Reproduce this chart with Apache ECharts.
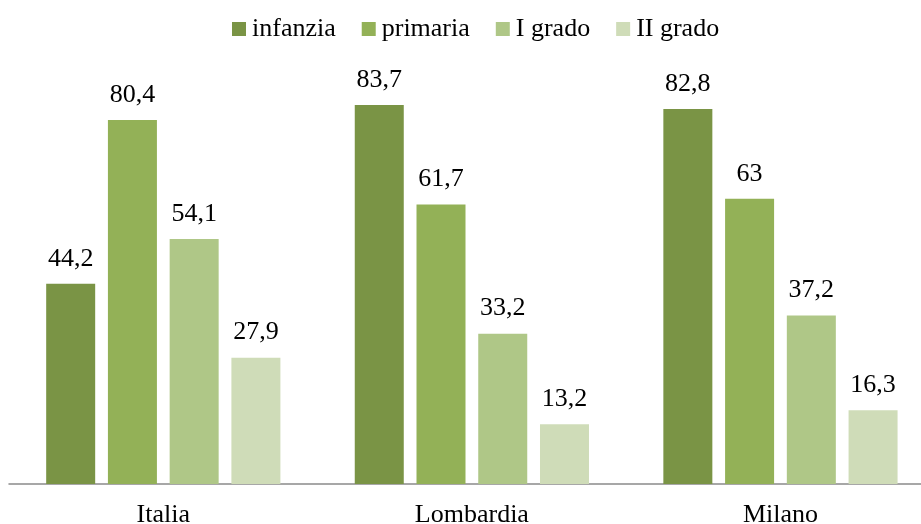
<!DOCTYPE html>
<html><head><meta charset="utf-8">
<script src="https://cdn.jsdelivr.net/npm/echarts@6/dist/echarts.min.js"></script>
<style>html,body{margin:0;padding:0;background:#fff}#c{width:921px;height:524px}</style>
</head><body><div id="c"></div>
<script>
const categories = ['Italia', 'Lombardia', 'Milano'];
const seriesNames = ['infanzia', 'primaria', 'I grado', 'II grado'];
const infanzia = [44.2, 83.7, 82.8];
const primaria = [80.4, 61.7, 63];
const iGrado = [54.1, 33.2, 37.2];
const iiGrado = [27.9, 13.2, 16.3];
const colors = ['#7A9445', '#93B157', '#AFC787', '#CFDCB8'];
const values = [infanzia, primaria, iGrado, iiGrado];
const font = '"Liberation Serif", "Times New Roman", serif';
const chart = echarts.init(document.getElementById('c'));
chart.setOption({
  animation: false,
  textStyle: { fontFamily: font },
  legend: {
    top: 11, left: 227, itemWidth: 14, itemHeight: 14, itemGap: 26,
    icon: 'rect',
    textStyle: { fontFamily: font, fontSize: 26, color: '#000', padding: [0, 0, 0, 1] },
    data: seriesNames
  },
  grid: { left: 9, top: 31.2, right: -13.75, bottom: 40, containLabel: false, outerBoundsMode: 'none' },
  xAxis: {
    type: 'category', data: categories,
    axisLine: { lineStyle: { color: '#8a8a8a', width: 1.5 } },
    axisTick: { show: false },
    axisLabel: { fontFamily: font, fontSize: 26, color: '#000', margin: 18 }
  },
  yAxis: { type: 'value', min: 0, max: 100, show: false, splitLine: { show: false } },
  series: values.map((v, i) => ({
    name: seriesNames[i], type: 'bar', data: v, barWidth: 49, barGap: '26%',
    itemStyle: { color: colors[i] },
    label: {
      show: true, position: 'top', distance: 12, fontFamily: font, fontSize: 26, color: '#000',
      formatter: p => String(p.value).replace('.', ',')
    }
  }))
});
</script></body></html>
